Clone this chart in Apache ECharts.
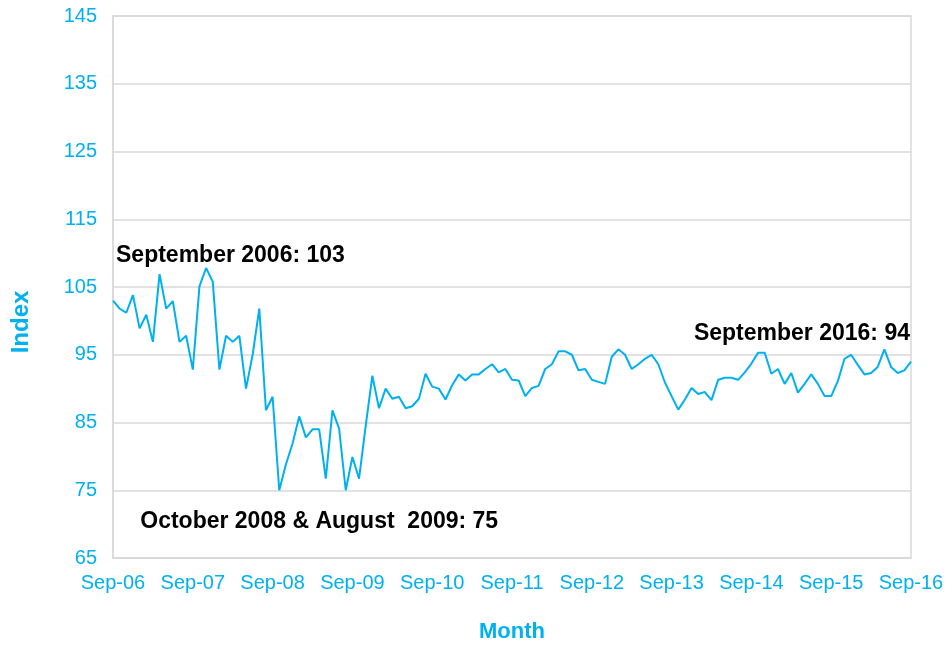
<!DOCTYPE html>
<html>
<head>
<meta charset="utf-8">
<script src="https://cdn.jsdelivr.net/npm/echarts@6/dist/echarts.min.js"></script>
<style>
  html, body { margin: 0; padding: 0; background: #fff; }
  #chart { width: 946px; height: 645px; }
</style>
</head>
<body>
<div id="chart"></div>
<script>
// monthly index, Sep 2006 .. Sep 2016
const monthNames = ['Jan', 'Feb', 'Mar', 'Apr', 'May', 'Jun', 'Jul', 'Aug', 'Sep', 'Oct', 'Nov', 'Dec'];
const months = [];
for (let k = 0; k <= 120; k++) {
  const m = (8 + k) % 12;
  const y = 6 + Math.floor((8 + k) / 12);
  months.push(monthNames[m] + '-' + String(y).padStart(2, '0'));
}

const indexValues = [
  103, 101.8, 101.2, 103.8, 98.9, 100.9, 96.9, 106.9, 101.8, 102.9, 96.9, 97.8,
  92.8, 105.1, 107.8, 105.8, 92.8, 97.8, 96.9, 97.8, 90.0, 95.0, 101.8, 86.8,
  88.8, 75, 78.8, 81.9, 85.9, 82.8, 84.0, 84.0, 76.7, 86.8, 84.1, 75,
  79.9, 76.7, 84.5, 91.9, 87.1, 90.0, 88.5, 88.8, 87.1, 87.4, 88.5, 92.2,
  90.3, 90.0, 88.4, 90.5, 92.1, 91.2, 92.1, 92.1, 92.9, 93.6, 92.4, 92.9,
  91.3, 91.2, 88.9, 90.1, 90.4, 92.9, 93.6, 95.5, 95.5, 95.0, 92.7, 92.9,
  91.3, 91.0, 90.7, 94.7, 95.8, 95.0, 92.9, 93.6, 94.4, 95.0, 93.6, 90.9,
  88.9, 86.9, 88.4, 90.1, 89.2, 89.5, 88.3, 91.3, 91.6, 91.6, 91.3, 92.4,
  93.7, 95.3, 95.3, 92.2, 92.9, 90.7, 92.3, 89.4, 90.7, 92.1, 90.7, 88.9,
  88.9, 91.1, 94.4, 95.0, 93.5, 92.1, 92.3, 93.2, 95.8, 93.2, 92.3, 92.7,
  94
];

const notes = [
  { idx: 0, text: 'September 2006: 103', align: 'left', offset: [3, -45] },
  { idx: 25, text: 'October 2008 & August  2009: 75', align: 'left', offset: [-139, 31] },
  { idx: 120, text: 'September 2016: 94', align: 'right', offset: [-1, -28] }
];

const blue = '#00B0F0';
const gridGrey = '#d9d9d9';

const chart = echarts.init(document.getElementById('chart'));

chart.setOption({
  backgroundColor: '#fff',
  animation: false,
  grid: {
    left: 113, right: 35, top: 16, bottom: 87,
    outerBoundsMode: 'none',
    show: true, borderColor: gridGrey, borderWidth: 1.5
  },
  xAxis: {
    type: 'category',
    data: months,
    boundaryGap: false,
    name: 'Month',
    nameLocation: 'middle',
    nameGap: 63,
    nameTextStyle: { color: blue, fontSize: 22, fontWeight: 'bold', fontFamily: 'Liberation Sans' },
    axisLine: { lineStyle: { color: gridGrey, width: 1.5 } },
    axisTick: { show: false },
    axisLabel: {
      interval: 11, color: blue, fontSize: 20, margin: 15,
      fontFamily: 'Liberation Sans'
    },
    splitLine: { show: false }
  },
  yAxis: {
    type: 'value',
    min: 65, max: 145, interval: 10,
    axisLine: { show: true, lineStyle: { color: gridGrey, width: 1.5 } },
    axisTick: { show: false },
    axisLabel: { color: blue, fontSize: 20, margin: 16, fontFamily: 'Liberation Sans' },
    splitLine: { lineStyle: { color: gridGrey, width: 1.5 } }
  },
  graphic: [{
    type: 'text',
    x: 21, y: 322,
    rotation: Math.PI / 2,
    style: {
      text: 'Index', fill: blue, fontSize: 24, fontWeight: 'bold',
      fontFamily: 'Liberation Sans', textAlign: 'center', textVerticalAlign: 'middle'
    }
  }],
  series: [{
    type: 'line',
    data: indexValues,
    symbol: 'none',
    lineStyle: { color: blue, width: 2 },
    itemStyle: { color: blue },
    markPoint: {
      symbol: 'circle',
      symbolSize: 0,
      data: notes.map(n => ({
        coord: [n.idx, indexValues[n.idx]],
        label: {
          show: true, formatter: n.text, align: n.align, verticalAlign: 'middle',
          offset: n.offset, color: '#000', fontSize: 23, fontWeight: 'bold',
          fontFamily: 'Liberation Sans'
        }
      }))
    }
  }]
});
</script>
</body>
</html>
